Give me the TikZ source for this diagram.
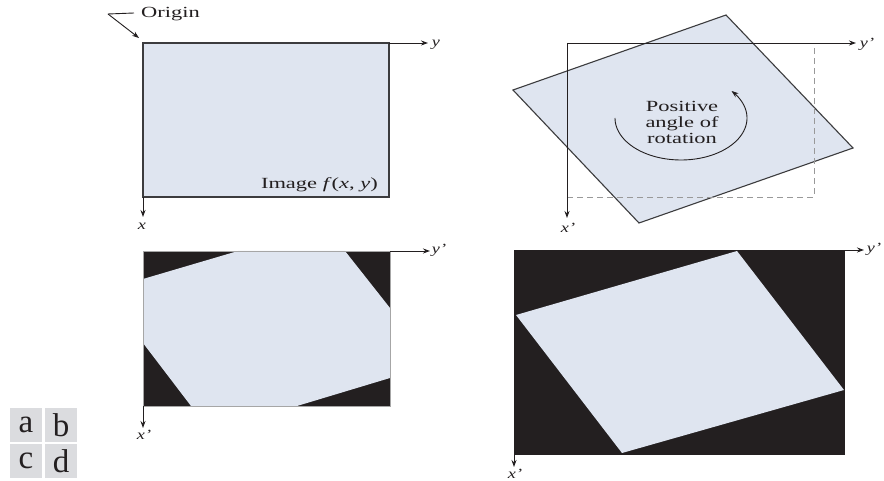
\documentclass[tikz,border=0pt]{standalone}
\usepackage{fontspec}
\setmainfont{Liberation Serif}
\usetikzlibrary{arrows.meta}
\definecolor{imgfill}{RGB}{223,229,240}
\definecolor{ink}{RGB}{35,31,32}
\definecolor{edge}{RGB}{60,60,62}
\definecolor{cellgray}{RGB}{219,220,223}
\newcommand{\wide}[1]{\scalebox{1.45}[1]{#1}}
\newcommand{\axwide}[1]{\scalebox{1.3}[1]{#1}}
\tikzset{
  frame/.style={draw=edge, line width=1.1pt, line join=miter},
  axis/.style={draw=ink, line width=0.9pt, -{Stealth[length=7pt,width=5pt]}},
  leader/.style={draw=ink, line width=0.9pt},
  lbl/.style={text=ink, font=\fontsize{15.5}{16}\selectfont, inner sep=0pt},
  axlbl/.style={text=ink, font=\fontsize{14}{15}\selectfont\itshape, inner sep=0pt},
  dashline/.style={draw=gray!80, line width=0.9pt, dash pattern=on 6pt off 4pt},
  cell/.style={fill=cellgray, draw=none, minimum width=32pt, minimum height=34pt, inner sep=0pt,
    text=ink, font=\fontsize{33}{34}\selectfont}
}
\begin{document}
\begin{tikzpicture}[x=1pt,y=-1pt]
\useasboundingbox[fill=white] (0,0) rectangle (884,481);

% ---------- panel a ----------
\coordinate (aO) at (143,43);
\coordinate (aTR) at (389,43);
\coordinate (aBL) at (143,197);
\coordinate (aBR) at (389,197);
\coordinate (aY) at (428,43);
\coordinate (aX) at (143,217);
\draw[frame, fill=imgfill] (aO) rectangle (aBR);
\draw[axis] (aTR) -- (aY);
\draw[axis] (aBL) -- (aX);
\node[axlbl] (ay) at (436,45) {\axwide{y}};
\node[axlbl] (ax) at (142,226) {\axwide{x}};
\node[lbl, anchor=base east] (aimg) at (378,189) {\wide{Image \textit{f}(\textit{x}, \textit{y})}};
\node[lbl, anchor=base west] (origin) at (141,18) {\wide{Origin}};
\coordinate (oH) at (134,13);
\coordinate (oK) at (108,14);
\draw[leader] (oH) -- (oK);
\coordinate (oTip) at (139,38);
\draw[axis] (oK) -- (oTip);

% ---------- panel b ----------
\coordinate (bT) at (726,15);
\coordinate (bR) at (853,148);
\coordinate (bB) at (639,223);
\coordinate (bL) at (513,90);
\draw[frame, fill=imgfill] (bT) -- (bR) -- (bB) -- (bL) -- cycle;
\coordinate (bO) at (567,43);
\coordinate (bDB) at (567,197);
\coordinate (bDC) at (814,197);
\coordinate (bDT) at (814,43);
\draw[dashline] (bDB) -- (bDC) -- (bDT);
\coordinate (bY) at (856,43);
\coordinate (bX) at (567,218);
\draw[axis] (bO) -- (bY);
\draw[axis] (bO) -- (bX);
\node[axlbl] (by) at (867,44) {\axwide{y’}};
\node[axlbl] (bx) at (568,228) {\axwide{x’}};
\node[lbl] (brot) at (682,124) {\wide{\begin{tabular}{@{}c@{}}Positive\\angle of\\rotation\end{tabular}}};
\draw[draw=ink, line width=0.9pt, -{Stealth[length=7pt,width=5pt]}, domain=180:400, samples=80, smooth, variable=\t]
  plot ({681+66*cos(\t)},{118-42*sin(\t)});

% ---------- panel c ----------
\coordinate (cTL) at (143,251);
\coordinate (cTR) at (390,251);
\coordinate (cBL) at (143,406);
\coordinate (cBR) at (390,406);
\fill[ink] (cTL) rectangle (cBR);
\fill[imgfill] (238,251) -- (345,251) -- (390,308) -- (390,378) -- (297,406) -- (191,406) -- (143,343) -- (143,279) -- cycle;
\draw[draw=gray!70, line width=0.5pt] (cTL) rectangle (cBR);
\coordinate (cY) at (430,251);
\coordinate (cX) at (143,428);
\draw[axis] (cTR) -- (cY);
\draw[axis] (cBL) -- (cX);
\node[axlbl] (cy) at (439,250) {\axwide{y’}};
\node[axlbl] (cx) at (144,435) {\axwide{x’}};

% ---------- panel d ----------
\coordinate (dTL) at (514,250);
\coordinate (dTR) at (845,250);
\coordinate (dBL) at (514,455);
\coordinate (dBR) at (845,455);
\fill[ink] (dTL) rectangle (dBR);
\fill[imgfill] (737,251) -- (844,390) -- (622,453) -- (516,315) -- cycle;
\coordinate (dY) at (864,250);
\coordinate (dX) at (514,467);
\draw[axis] (dTR) -- (dY);
\draw[axis] (dBL) -- (dX);
\node[axlbl] (dy) at (874,249) {\axwide{y’}};
\node[axlbl] (dx) at (515,474) {\axwide{x’}};

% ---------- panel key ----------
\node[cell] (ka) at (26,425) {a};
\node[cell] (kb) at (61,425) {b};
\node[cell] (kc) at (26,461) {c};
\node[cell] (kd) at (61,461) {d};
\end{tikzpicture}
\end{document}
